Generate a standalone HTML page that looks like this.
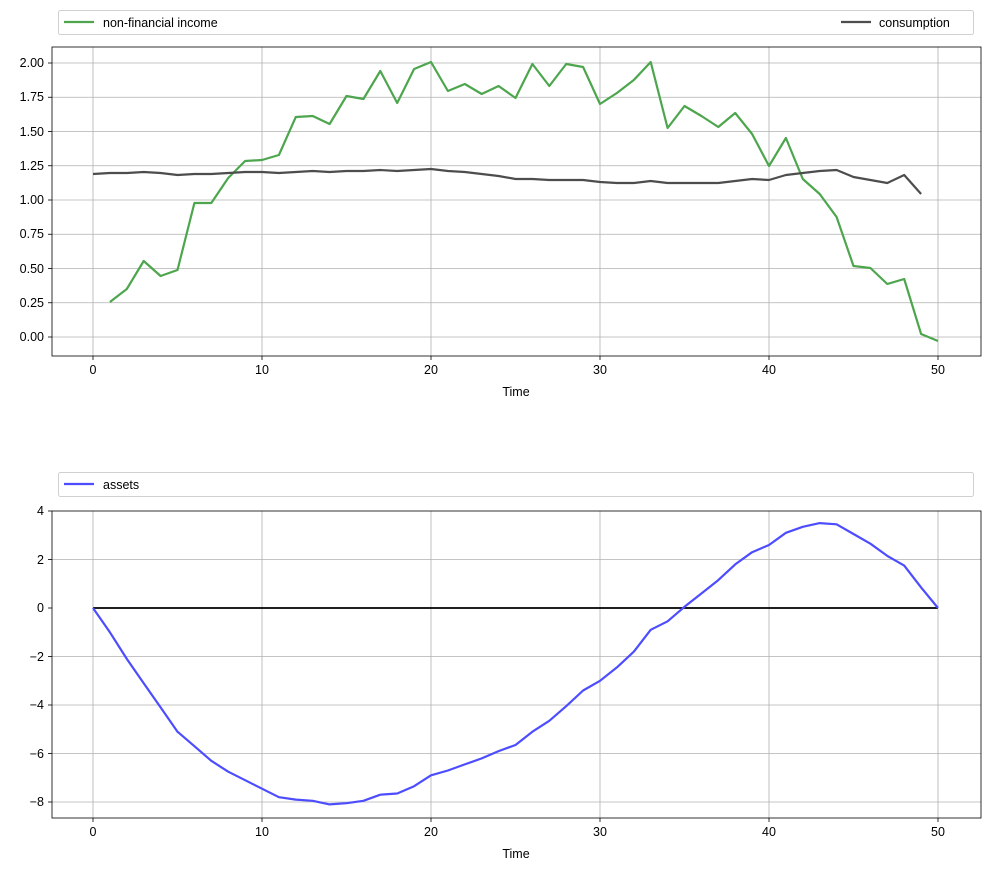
<!DOCTYPE html>
<html><head><meta charset="utf-8"><style>
body{margin:0;background:#fff;}
svg{display:block;font-family:"Liberation Sans","DejaVu Sans",sans-serif;}
</style></head><body>
<svg width="990" height="871" viewBox="0 0 990 871" xmlns="http://www.w3.org/2000/svg">
<rect width="990" height="871" fill="#fff"/>
<!-- TOP -->
<g stroke="#b0b0b0" stroke-width="0.8">
<line x1="93" y1="47" x2="93" y2="356"/><line x1="262" y1="47" x2="262" y2="356"/><line x1="431" y1="47" x2="431" y2="356"/><line x1="600" y1="47" x2="600" y2="356"/><line x1="769" y1="47" x2="769" y2="356"/><line x1="938" y1="47" x2="938" y2="356"/>
<line x1="52" y1="337" x2="981" y2="337"/><line x1="52" y1="302.75" x2="981" y2="302.75"/><line x1="52" y1="268.5" x2="981" y2="268.5"/><line x1="52" y1="234.25" x2="981" y2="234.25"/><line x1="52" y1="200" x2="981" y2="200"/><line x1="52" y1="165.75" x2="981" y2="165.75"/><line x1="52" y1="131.5" x2="981" y2="131.5"/><line x1="52" y1="97.25" x2="981" y2="97.25"/><line x1="52" y1="63" x2="981" y2="63"/>
</g>
<g transform="translate(93,0) scale(16.9,1)" fill="none" stroke-width="2.2" stroke-linejoin="round">
<polyline vector-effect="non-scaling-stroke" stroke="rgb(77,166,77)" points="1,302 2,289 3,261 4,276 5,270 6,203 7,203 8,178 9,161 10,160 11,155 12,117 13,116 14,124 15,96 16,99 17,71 18,103 19,69 20,62 21,91 22,84 23,94 24,86 25,98 26,64 27,86 28,64 29,67 30,104 31,93 32,80 33,62 34,128 35,106 36,116 37,127 38,113 39,134 40,166 41,138 42,179 43,194 44,217 45,266 46,268 47,284 48,279 49,334 50,341"/>
<polyline vector-effect="non-scaling-stroke" stroke="rgb(77,77,77)" points="0,174 1,173 2,173 3,172 4,173 5,175 6,174 7,174 8,173 9,172 10,172 11,173 12,172 13,171 14,172 15,171 16,171 17,170 18,171 19,170 20,169 21,171 22,172 23,174 24,176 25,179 26,179 27,180 28,180 29,180 30,182 31,183 32,183 33,181 34,183 35,183 36,183 37,183 38,181 39,179 40,180 41,175 42,173 43,171 44,170 45,177 46,180 47,183 48,175 49,194"/>
</g>
<rect x="52" y="47" width="929" height="309" fill="none" stroke="#000" stroke-width="0.8"/>
<g font-size="12.5" fill="#000" text-anchor="end">
<text x="44" y="341">0.00</text><text x="44" y="307">0.25</text><text x="44" y="273">0.50</text><text x="44" y="238">0.75</text><text x="44" y="204">1.00</text><text x="44" y="170">1.25</text><text x="44" y="136">1.50</text><text x="44" y="101">1.75</text><text x="44" y="67">2.00</text>
</g>
<g stroke="#000" stroke-width="0.8">
<line x1="48" y1="337" x2="52" y2="337"/><line x1="48" y1="302.75" x2="52" y2="302.75"/><line x1="48" y1="268.5" x2="52" y2="268.5"/><line x1="48" y1="234.25" x2="52" y2="234.25"/><line x1="48" y1="200" x2="52" y2="200"/><line x1="48" y1="165.75" x2="52" y2="165.75"/><line x1="48" y1="131.5" x2="52" y2="131.5"/><line x1="48" y1="97.25" x2="52" y2="97.25"/><line x1="48" y1="63" x2="52" y2="63"/>
<line x1="93" y1="356" x2="93" y2="360"/><line x1="262" y1="356" x2="262" y2="360"/><line x1="431" y1="356" x2="431" y2="360"/><line x1="600" y1="356" x2="600" y2="360"/><line x1="769" y1="356" x2="769" y2="360"/><line x1="938" y1="356" x2="938" y2="360"/>
</g>
<g font-size="12.5" text-anchor="middle">
<text x="93" y="374">0</text><text x="262" y="374">10</text><text x="431" y="374">20</text><text x="600" y="374">30</text><text x="769" y="374">40</text><text x="938" y="374">50</text>
<text x="516" y="396">Time</text>
</g>
<rect x="58.5" y="10.5" width="915" height="24" rx="2" fill="#fff" stroke="#d0d0d0"/>
<line x1="64" y1="22" x2="94" y2="22" stroke="rgb(77,166,77)" stroke-width="2.2"/>
<text x="103" y="27" font-size="12.5">non-financial income</text>
<line x1="841" y1="22" x2="871" y2="22" stroke="rgb(77,77,77)" stroke-width="2.2"/>
<text x="879" y="27" font-size="12.5">consumption</text>
<!-- BOTTOM -->
<g stroke="#b0b0b0" stroke-width="0.8">
<line x1="93" y1="511" x2="93" y2="818"/><line x1="262" y1="511" x2="262" y2="818"/><line x1="431" y1="511" x2="431" y2="818"/><line x1="600" y1="511" x2="600" y2="818"/><line x1="769" y1="511" x2="769" y2="818"/><line x1="938" y1="511" x2="938" y2="818"/>
<line x1="52" y1="559.5" x2="981" y2="559.5"/><line x1="52" y1="656.5" x2="981" y2="656.5"/><line x1="52" y1="705" x2="981" y2="705"/><line x1="52" y1="753.5" x2="981" y2="753.5"/><line x1="52" y1="802" x2="981" y2="802"/>
</g>
<line x1="93" y1="608" x2="938" y2="608" stroke="#000" stroke-width="1.8"/>
<g transform="translate(93,0) scale(16.9,1)" fill="none" stroke-width="2.2" stroke-linejoin="round">
<polyline vector-effect="non-scaling-stroke" stroke="rgb(77,77,255)" points="0,608 1,632.3 2,658.9 3,683.2 4,707.4 5,731.7 6,746.2 7,760.8 8,771.7 9,780.2 10,788.7 11,797.2 12,799.6 13,800.8 14,804.4 15,803.2 16,800.8 17,794.7 18,793.5 19,786.2 20,775.3 21,770.5 22,764.4 23,758.4 24,751.1 25,745 26,731.7 27,720.8 28,706.2 29,690.5 30,680.8 31,667.4 32,651.7 33,629.8 34,621.3 35,606.8 36,593.5 37,580.1 38,564.4 39,552.2 40,545 41,532.8 42,526.8 43,523.1 44,524.3 45,534 46,543.7 47,555.9 48,565.6 49,587.4 50,608"/>
</g>
<rect x="52" y="511" width="929" height="307" fill="none" stroke="#000" stroke-width="0.8"/>
<g font-size="12.5" text-anchor="end">
<text x="44" y="515">4</text><text x="44" y="564">2</text><text x="44" y="612">0</text><text x="44" y="661">−2</text><text x="44" y="709">−4</text><text x="44" y="758">−6</text><text x="44" y="806">−8</text>
</g>
<g stroke="#000" stroke-width="0.8">
<line x1="48" y1="511" x2="52" y2="511"/><line x1="48" y1="559.5" x2="52" y2="559.5"/><line x1="48" y1="608" x2="52" y2="608"/><line x1="48" y1="656.5" x2="52" y2="656.5"/><line x1="48" y1="705" x2="52" y2="705"/><line x1="48" y1="753.5" x2="52" y2="753.5"/><line x1="48" y1="802" x2="52" y2="802"/>
<line x1="93" y1="818" x2="93" y2="822"/><line x1="262" y1="818" x2="262" y2="822"/><line x1="431" y1="818" x2="431" y2="822"/><line x1="600" y1="818" x2="600" y2="822"/><line x1="769" y1="818" x2="769" y2="822"/><line x1="938" y1="818" x2="938" y2="822"/>
</g>
<g font-size="12.5" text-anchor="middle">
<text x="93" y="836">0</text><text x="262" y="836">10</text><text x="431" y="836">20</text><text x="600" y="836">30</text><text x="769" y="836">40</text><text x="938" y="836">50</text>
<text x="516" y="858">Time</text>
</g>
<rect x="58.5" y="472.5" width="915" height="24" rx="2" fill="#fff" stroke="#d0d0d0"/>
<line x1="64" y1="484" x2="94" y2="484" stroke="rgb(77,77,255)" stroke-width="2.2"/>
<text x="103" y="489" font-size="12.5">assets</text>
</svg>
</body></html>
